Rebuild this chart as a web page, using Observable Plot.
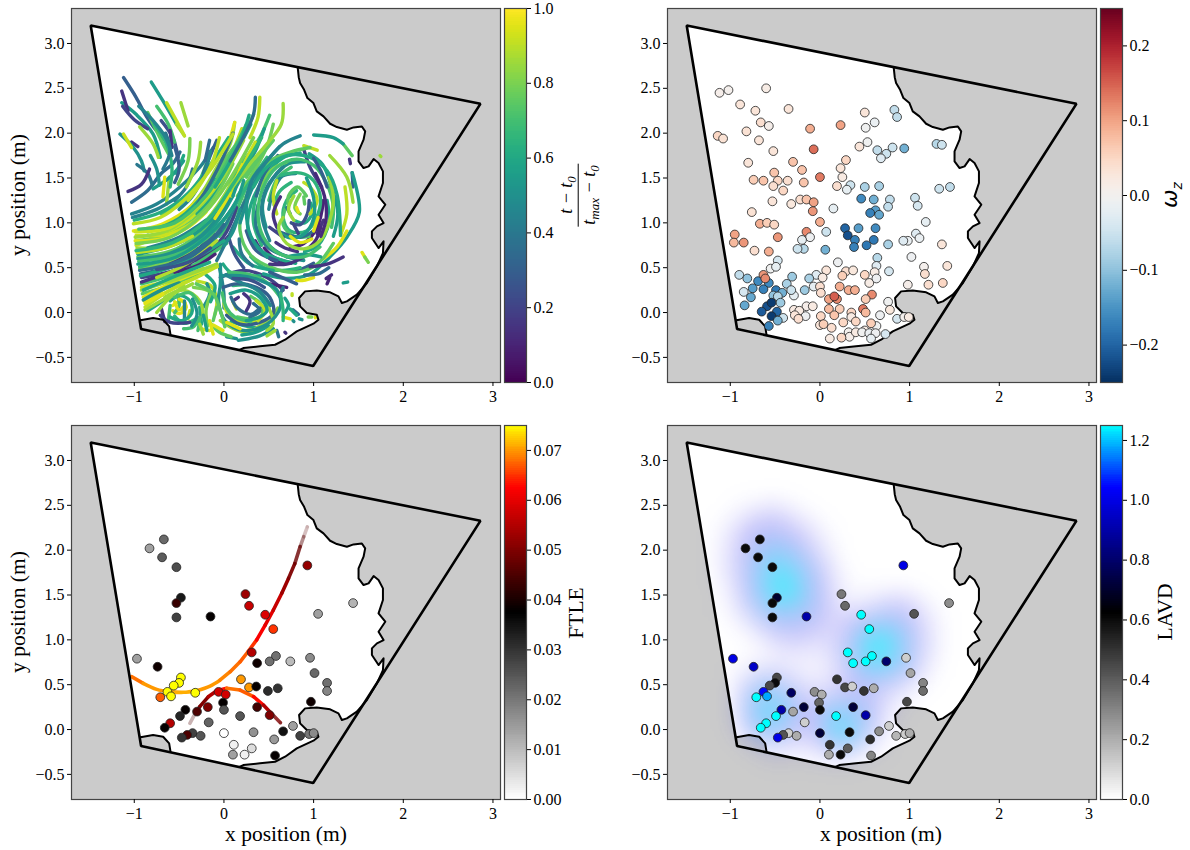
<!DOCTYPE html>
<html><head><meta charset="utf-8">
<style>
html,body{margin:0;padding:0;background:#fff;}
#root{position:relative;width:1190px;height:850px;overflow:hidden;font-family:"Liberation Serif",serif;color:#000;}
#root svg{position:absolute;}
.lab{position:absolute;white-space:nowrap;transform:translate(-50%,-50%);font-size:21.5px;line-height:1;}
.rot{transform:translate(-50%,-50%) rotate(-90deg);}
.frac{display:inline-flex;flex-direction:column;align-items:center;font-style:italic;font-size:18px;line-height:1.1;}
.frac .n{padding:0 2px 1px;}
.frac .d{border-top:1px solid #000;padding:1px 2px 0;}
.frac sub{font-size:13px;line-height:0;}
</style>
<script src="https://cdn.jsdelivr.net/npm/d3@7"></script>
<script src="https://cdn.jsdelivr.net/npm/@observablehq/plot@0.6"></script>
</head><body><div id="root"></div>
<script>
// Tank outline (metres)
const tankX = [-1.486, 2.86, 0.995, -0.924];
const tankY = [3.2, 2.327, -0.596, -0.183];
// Shoreline, main stretch: top edge of the tank round to the bottom edge
const shoreX = [0.823,0.834,0.849,0.894,0.931,0.998,1.035,1.110,1.184,1.259,1.371,1.445,1.538,1.575,1.557,1.501,1.501,1.557,1.613,1.669,1.724,1.773,1.773,1.724,1.799,1.724,1.780,1.706,1.650,1.650,1.724,1.780,1.773,1.706,1.594,1.482,1.371,1.315,1.277,1.184,1.035,0.905,0.838,0.849,0.924,1.035,1.054,0.998,0.812,0.682,0.570,0.402,0.216,0.179];
const shoreY = [2.727,2.624,2.559,2.484,2.391,2.336,2.243,2.187,2.105,2.068,2.038,2.064,2.075,2.020,1.927,1.797,1.685,1.611,1.630,1.711,1.667,1.574,1.444,1.295,1.202,1.091,0.998,0.961,0.905,0.831,0.719,0.793,0.663,0.515,0.329,0.199,0.124,0.106,0.180,0.225,0.247,0.236,0.162,0.069,-0.006,-0.024,-0.080,-0.124,-0.210,-0.303,-0.359,-0.377,-0.396,-0.414];
// Small corner shoreline
const cornerX = [-0.596,-0.611,-0.678,-0.790,-0.931];
const cornerY = [-0.247,-0.154,-0.080,-0.061,-0.087];

// Tracks: [normalised time, x0,y0, x1,y1, ...]
const tracks = [
[.3,-1.12,2.62,-.98,2.40,-.86,2.18,-.72,1.99,-.60,1.88],
[.15,-1.14,2.47,-1.07,2.25],
[.15,-.60,2.03,-.58,1.84],
[.25,-.70,2.14,-.57,1.95,-.51,1.73],
[.2,-1.13,2.3,-1.0,2.15,-.85,2.05],
[.45,-.95,2.3,-.8,2.15,-.65,1.95,-.58,1.75],
[.55,-.81,2.57,-.68,2.36,-.53,2.10],
[.85,-.53,2.10,-.44,1.97],
[.55,-1.14,2.34,-.98,2.21,-.79,1.99,-.71,1.73],
[.7,-.75,2.3,-.62,2.1,-.55,1.9],
[.4,-.65,2.0,-.6,1.8,-.68,1.6],
[.6,-.45,1.75,-.53,1.55],
[.4,-.97,1.65,-.85,1.55,-.8,1.42],
[.9,-.64,2.34,-.53,2.14,-.44,1.97],
[.85,-.48,2.34,-.40,2.08],
[.85,-.94,2.07,-.79,1.88,-.73,1.73],
[.75,-.85,2.23,-.70,1.92,-.62,1.77],
[.5,-1.16,1.99,-1.01,1.84,-.92,1.69,-.89,1.58],
[.92,-1.12,1.99,-1.03,1.84],
[.15,-1.03,1.90,-.96,1.85],
[.15,-1.07,1.35,-.92,1.43,-.83,1.60],
[.35,-1.03,1.23,-.85,1.36,-.70,1.55,-.57,1.66,-.49,1.79],
[.55,-.79,1.38,-.60,1.51,-.45,1.69],
[.95,-.66,1.51,-.68,1.29],
[.85,-.61,1.51,-.64,1.21],
[.8,-.38,1.94,-.40,1.69,-.51,1.43],
[.85,-.26,1.90,-.29,1.69,-.42,1.40],
[.3,-.08,1.92,-.16,1.73,-.23,1.55],
[.35,-.16,1.92,-.21,1.69],
[.45,-1.03,1.10,-.75,1.21,-.49,1.40,-.27,1.62,-.12,1.84],
[.45,-.15,1.8,-.22,1.55,-.35,1.3,-.5,1.15],
[.45,-1.02,1.06,-.75,1.15,-.5,1.30],
[.62,-1.0,1.03,-.7,1.12,-.4,1.33,-.15,1.65,.05,1.95],
[.35,.1,2.0,0,1.75,-.15,1.45,-.3,1.2],
[.2,-.92,.39,-.45,.51,-.01,.84,.14,1.17],
[.35,-.94,.47,-.49,.58,-.04,.91],
[.35,-.93,.43,-.55,.53,-.25,.7,0,.98],
[.5,-.96,.6,-.6,.66,-.25,.86,.02,1.2,.25,1.7],
[.55,-.96,.54,-.53,.62,-.08,.95,.14,1.25,.22,1.47],
[.65,-.98,.69,-.57,.78,-.16,1.06,.10,1.43,.42,1.95],
[.12,-.60,.54,-.31,.69,-.12,.88],
[.15,-.92,.34,-.60,.45,-.38,.54],
[.55,-.96,.65,-.45,.80,-.08,1.10,.22,1.62],
[.65,-.94,.51,-.42,.69,-.04,.99,.25,1.40,.48,1.73],
[.6,-.93,.41,-.6,.5,-.3,.62,0,.8],
[.3,.03,.80,.14,1.03,.25,1.29],
[.4,-.08,.58,.07,.88,.22,1.21,.40,1.55],
[.75,-.96,.62,-.53,.71,-.12,1.03,.18,1.47,.51,1.88],
[.7,-.92,.32,-.45,.47,.03,.77],
[.6,-.90,.25,-.53,.41,-.16,.56],
[.8,-.94,.49,-.6,.57,-.3,.72],
[.7,-.95,.57,-.55,.64,-.2,.82,.05,1.1],
[.8,-.98,.77,-.60,.84,-.23,1.10,.03,1.43,.33,1.95],
[.78,-.98,.80,-.53,.91,-.16,1.21,.10,1.66],
[.7,-.95,.93,-.55,1.0,-.2,1.3,.05,1.7,.25,2.1],
[.85,-.97,.72,-.6,.75,-.25,.97,0,1.3,.2,1.7],
[.85,-.99,.84,-.64,.91,-.31,1.14,-.01,1.51,.22,1.92],
[.9,-1.01,.99,-.71,1.06,-.45,1.25,-.16,1.58,.10,1.99],
[.95,-1.01,.91,-.68,.99,-.34,1.21,-.08,1.55,.12,2.12],
[.92,-.99,.90,-.60,.95,-.27,1.21,-.04,1.47],
[.92,-.98,.75,-.60,.90,-.31,1.10],
[.92,-.98,.86,-.6,.88,-.25,1.08,-.02,1.36],
[.95,-.99,.8,-.7,.82,-.4,.95,-.2,1.12],
[.9,-.97,.67,-.65,.72,-.35,.85],
[.85,-.92,.25,-.49,.39,-.08,.54],
[.88,-.75,.39,-.42,.54,-.08,.80],
[.75,-.91,.21,-.65,.29,-.4,.39,-.15,.5],
[.5,-.9,.14,-.7,.25,-.5,.33],
[.92,-.92,.28,-.65,.35,-.4,.46],
[.95,-.90,.17,-.60,.32,-.23,.47,-.04,.52],
[.9,-.88,.06,-.60,.25,-.31,.39,-.08,.51],
[.97,-.89,.13,-.7,.2,-.5,.3,-.25,.42],
[.85,-.88,.03,-.72,.12,-.55,.22,-.35,.32],
[.35,.35,2.40,.33,2.21,.20,1.92,.07,1.69],
[.9,.40,2.40,.38,2.18,.29,1.95],
[.85,.66,2.33,.64,2.10,.48,1.88,.29,1.66,.07,1.36],
[.7,.51,2.20,.40,1.95,.22,1.69,.03,1.43],
[.75,.33,2.21,.22,1.99,.03,1.73,-.08,1.51],
[.6,.28,2.2,.2,1.95,.05,1.65,-.1,1.4],
[.9,.2,2.05,.1,1.8,-.05,1.5],
[.55,.45,2.05,.35,1.8,.2,1.55,.1,1.3],
[.78,.55,2.1,.48,1.85,.35,1.6,.15,1.3],
[.92,.35,1.9,.22,1.65,.08,1.3],
[.5,.62,1.85,.45,1.65,.3,1.35,.18,1.0],
[.85,.12,2.12,.07,1.88,-.08,1.62,-.23,1.36,-.38,1.17],
[.9,-.05,1.95,-.12,1.7,-.25,1.45,-.4,1.25],
[.45,.85,1.97,.66,1.88,.48,1.69,.33,1.51,.25,1.29],
[.75,.55,1.92,.40,1.73,.25,1.51],
[.15,.63,1.29,.55,1.10,.59,.95],
[.1,1.11,1.25,1.04,.95,.89,.77,.74,.73],
[.15,.51,.54,.70,.54,.89,.62],
[.15,1.33,.62,1.15,.54,.96,.51],
[.2,.89,1.82,.96,1.62,1.09,1.40],
[.2,.51,.95,.66,.84],
[.15,1.04,.88,1.11,1.03],
[.3,.25,.91,.36,.69,.59,.58],
[.3,.51,.45,.81,.32],
[.1,.51,.32,.70,.28],
[.1,1.15,.32,1.18,.39],
[.12,1.02,1.55,1.12,1.3,1.14,1.05,1.08,.85],
[.25,.95,1.25,.93,1.1,.85,.98,.75,1.0],
[.25,.05,.85,.12,.65,.22,.5],
[.15,.35,.8,.45,.65,.6,.56,.75,.55],
[.35,.59,.91,.85,.84,1.00,.91],
[.45,.66,1.62,.48,1.40,.42,1.10,.51,.80],
[.5,.36,.95,.48,.77,.66,.64,.89,.58],
[.4,.17,.82,.2,.65,.32,.52],
[.3,1.0,.55,.85,.48,.72,.46],
[.35,.9,.42,1.05,.43,1.17,.5],
[.12,1.2,.42,1.14,.38],
[.55,1.43,1.56,1.51,1.12,1.37,.84,1.18,.62,.96,.43,.70,.38,.44,.43],
[.6,.10,.73,.29,.54,.55,.47],
[.6,1.30,.86,1.26,1.32,1.15,1.58,.96,1.73,.70,1.75,.48,1.62,.33,1.40],
[.6,.85,1.78,.65,1.72,.45,1.5,.3,1.2,.27,.92,.4,.7,.6,.6,.8,.55],
[.55,.95,1.77,1.1,1.65,1.2,1.4,1.27,1.1,1.22,.85],
[.5,.9,1.68,.72,1.66,.55,1.5,.43,1.2,.47,.95],
[.75,.96,1.84,.74,1.79,.51,1.69,.36,1.51,.22,1.21,.18,.91,.29,.65,.51,.51,.81,.45,1.04,.54,1.22,.77],
[.7,1.20,.95,1.22,1.17,1.15,1.43,1.00,1.64,.81,1.71,.59,1.62,.44,1.40,.38,1.10,.44,.84,.63,.65,.89,.62,1.07,.73],
[.65,.81,1.36,.70,1.25,.66,1.06,.74,.91,.92,.91,1.05,1.10,1.07,1.32,.96,1.51,.81,1.56,.63,1.53],
[.55,.92,1.5,1.0,1.28,1.0,1.05,.9,.88,.75,.83,.6,.9],
[.7,.75,1.62,.6,1.5,.5,1.25],
[.65,.75,1.45,.62,1.35,.56,1.2],
[.75,.72,1.2,.72,1.3,.82,1.4,.92,1.3],
[.65,.3,.62,.45,.5,.65,.47,.85,.5],
[.55,.7,.62,.9,.65,1.08,.62],
[.85,.66,1.06,.61,.95,.70,.77,.89,.71,1.07,.80,1.18,1.03,1.22,1.29,1.17,1.51],
[.85,1.18,1.75,1.37,1.51,1.44,1.23],
[.55,1.00,1.98,1.22,1.95,1.33,1.88],
[.75,1.33,1.88,1.43,1.75],
[.95,1.11,.60,1.26,.73,1.37,.91],
[.9,1.30,.86,1.37,1.10,1.35,1.40],
[.9,.89,1.86,1.04,1.81],
[.9,.59,1.47,.55,1.29,.59,1.10],
[.95,1.00,.91,1.05,1.06],
[.9,.96,1.10,1.04,1.25,.96,1.40,.89,1.45],
[.4,.70,1.17,.74,1.10],
[.8,.85,1.32,.79,1.17,.85,1.10],
[.75,.89,1.29,.90,1.21],
[.95,.81,1.17,.83,1.12],
[.95,.81,.36,.89,.36,1.00,.39],
[.55,1.33,.33,1.38,.34],
[.3,1.43,1.56,1.44,1.40],
[.15,1.40,1.71,1.41,1.66],
[.85,1.74,1.75,1.75,1.74],
[.95,1.54,.67,1.57,.62],
[.8,1.57,.62,1.61,.56],
[.2,-.71,-.03,-.60,-.11,-.38,-.11],
[.15,-.7,.05,-.66,-.1],
[.6,-.60,.13,-.49,.19,-.38,.13,-.36,-.01,-.47,-.09,-.60,-.05],
[.95,-.57,.08,-.47,.13,-.42,.06,-.49,-.01,-.57,.02],
[.85,-.66,.17,-.45,.25,-.27,.13,-.23,-.05],
[.7,-.55,.17,-.38,.22,-.28,.1],
[.8,-.34,.28,-.19,.25,-.12,.21],
[.75,-.31,.32,-.12,.21,-.04,.02,.01,-.16],
[.9,-.3,.35,-.15,.3,-.08,.15,-.1,-.02],
[.6,-.2,.42,-.1,.3,-.15,.12],
[.7,-.45,-.18,-.34,-.16,-.27,-.05,-.29,-.20],
[.65,-.55,-.04,-.45,-.12,-.33,-.08],
[.9,-.38,.02,-.4,-.07],
[.55,-.23,-.03,-.19,-.20],
[.95,-.16,-.09,-.12,-.24],
[.95,-.27,-.18,-.16,-.20],
[.75,-.15,-.12,-.05,-.22,.08,-.27],
[.3,-.01,.28,.14,.32,.36,.28,.51,.17,.55,-.01,.40,-.11,.18,-.13,.03,-.03],
[.25,.1,.38,.3,.36,.45,.28],
[.45,-.05,.5,-.02,.35,0,.2,0,.05],
[.5,-.04,.54,-.04,.32,-.06,.13,.01,-.09,.22,-.20,.48,-.13,.63,.06,.59,.25,.40,.36,.18,.41,-.04,.41],
[.2,-.04,.39,.22,.47,.48,.39,.66,.25],
[.7,.05,.45,.3,.42,.5,.32,.62,.18],
[.55,.07,.21,.25,.25,.40,.17,.48,.02,.40,-.05,.25,-.09],
[.75,.3,.18,.42,.08,.42,-.03,.3,-.07,.15,-.05],
[.7,-.02,.22,.03,.05,.12,-.05,.3,-.1],
[.15,.22,.21,.29,.13,.25,.02],
[.15,.16,.17,.10,.13],
[.9,.10,.12,.14,.04],
[.6,.08,-.1,.2,-.14,.35,-.17],
[.85,-.04,-.09,.07,-.16,.25,-.22,.48,-.09],
[.95,.03,-.11,.18,-.18],
[.95,.25,-.20,.44,-.16,.55,-.05],
[.85,.5,.05,.55,-.12,.48,-.2],
[.5,.03,-.27,.14,-.29],
[.5,.16,-.31,.40,-.26,.55,-.18],
[.85,.48,-.26,.57,-.20],
[.4,.59,-.20,.61,-.27],
[.15,.68,-.22,.69,-.23],
[.65,.63,.21,.66,.02,.66,-.09],
[.6,.74,.04,.81,-.03],
[.55,.68,0,.72,.08,.68,.16],
[.35,.77,.03,.83,-.02],
[.5,.84,-.07,.87,-.08],
[.95,.66,-.05,.74,-.07],
[.5,.77,-.09,.78,-.10],
[.8,.94,-.05,.98,-.05],
[.95,1.02,-.05,1.02,-.06],
[.9,.76,.21,.76,.19],
[.4,.66,.28,.63,.21],
[.95,-.60,.30,-.31,.41,-.08,.54],
[.9,-.79,.17,-.53,.36,-.23,.49],
[.95,-.88,.10,-.68,.21],
[.7,-.60,.08,-.62,-.09],
[.45,-.44,.13,-.44,-.09],
[.5,-.23,.06,-.16,.21,-.19,.32],
[.6,-.27,.06,-.25,-.13],
[.85,-.23,-.24,-.27,-.13],
[.6,-.01,.54,.10,.43,.40,.41],
[.95,-.01,-.20,-.12,-.14],
[.75,-.08,.06,-.12,-.09],
[.35,.33,.10,.40,.02,.29,-.05],
[.9,.36,.13,.46,.02,.38,-.09],
[.1,.45,.72,.55,.62,.72,.56],
[.12,.9,.68,1.02,.8,1.08,.95],
[.15,.58,.78,.68,.72,.82,.68],
[.4,.38,1.2,.36,.95,.5,.72,.7,.63],
[.55,.3,1.45,.25,1.15,.3,.85,.48,.62],
[.65,.48,1.55,.36,1.3,.33,1.0,.42,.75],
[.35,.6,1.75,.45,1.55,.36,1.3],
[.8,.7,1.68,.52,1.58,.42,1.38],
[.45,.8,1.55,.65,1.52,.55,1.35,.5,1.15],
[.6,1.15,1.25,1.17,1.0,1.05,.75,.9,.68],
[.3,1.0,1.72,1.08,1.58,1.15,1.4],
[.72,.68,1.15,.66,.98,.78,.85,.95,.85],
[.95,.74,.85,.85,.78,.98,.82],
[.6,.8,1.02,.9,1.0,.98,1.1,.97,1.22],
[.2,.78,.98,.83,.88],
[.85,.78,1.3,.72,1.15,.78,1.03],
[.6,-.3,1.1,-.05,1.4,.12,1.75,.3,2.1],
[.95,-.1,1.05,.05,1.3,.2,1.65],
[.7,-.05,.85,.1,1.05,.25,1.4,.45,1.8],
[.45,-.2,.72,0,.95,.15,1.25],
[.5,0,.75,.1,.9,.18,1.15],
[.15,-.3,.57,-.1,.7,.05,.85],
[.1,-.55,.45,-.3,.52,-.1,.65],
[.25,-.75,.48,-.4,.56,-.15,.72],
[.6,-.85,.9,-.5,1.05,-.2,1.35,-.02,1.65],
[.45,-.85,.72,-.5,.84,-.2,1.03],
[.55,-.8,.6,-.4,.72,-.1,.98,.1,1.3],
[.65,-.78,2.1,-.65,1.9,-.58,1.62,-.6,1.4],
[.3,-.55,1.85,-.5,1.6,-.55,1.45],
[.5,-.82,1.75,-.75,1.6,-.72,1.42],
[.4,-.35,1.6,-.42,1.4,-.55,1.25],
[.7,-.2,1.65,-.3,1.42,-.5,1.2,-.7,1.1],
[.6,-.85,.02,-.7,.12,-.6,.2],
[.85,-.75,0,-.62,.15,-.45,.3],
[.7,-.55,0,-.5,.08,-.52,.2],
[.95,-.55,.12,-.5,.03,-.43,.1,-.5,.15],
[.5,-.35,.15,-.3,-.02,-.36,-.15],
[.8,-.15,.2,-.2,.02,-.18,-.15],
[.45,.02,.42,.2,.33,.38,.25,.52,.08],
[.65,.1,.3,.28,.3,.42,.2,.5,.05],
[.9,0,.1,.05,-.02,.18,-.1,.35,-.1],
[.35,.08,.17,.15,.05,.3,-.02,.4,.05],
[.8,.4,-.2,.5,-.1,.6,.05],
[.55,.2,-.25,.35,-.22,.5,-.15]
];

// Vorticity samples: [x, y, omega_z]
const omegaPts = [
[-1.12,2.45,.01],[-1.02,2.48,.005],[-.60,2.50,.015],[-.89,2.32,.03],[-.72,2.25,.03],[-.35,2.27,.03],[-.66,2.12,.04],[-.57,2.08,.01],[-.11,2.05,.09],[.23,2.09,.10],[.50,2.23,.03],[.61,2.12,-.015],[.51,2.06,-.005],[.83,2.26,-.06],[.86,2.18,-.06],[-.82,2.02,.035],[-1.14,1.97,.05],[-1.08,1.94,.035],[-.68,1.92,.03],[-.52,1.80,.03],[-.07,1.82,.14],[.53,1.90,-.005],[.44,1.85,.03],[.64,1.81,-.06],[.81,1.84,-.05],[.94,1.83,-.12],[.74,1.77,-.05],[.68,1.72,-.03],[1.30,1.88,-.07],[1.36,1.87,-.05],[.29,1.70,.05],[-.30,1.68,.07],[-.80,1.67,.03],[-.20,1.59,.07],[-.51,1.56,.07],[.23,1.61,.03],[.25,1.51,.02],[0,1.51,.13],[-.47,1.47,.05],[-.36,1.47,.04],[-.74,1.48,.06],[-.63,1.47,.07],[-.18,1.45,.07],[-.52,1.41,.04],[-.41,1.36,.05],[.19,1.41,.04],[.34,1.42,-.05],[.30,1.37,-.02],[.50,1.40,-.08],[.66,1.41,-.08],[1.33,1.38,-.05],[1.45,1.40,-.06],[.46,1.27,-.16],[.60,1.26,-.12],[.78,1.26,-.06],[.76,1.18,-.06],[1.06,1.28,-.05],[1.09,1.19,-.04],[-.53,1.24,.03],[-.32,1.21,.025],[-.22,1.26,.04],[-.15,1.26,.07],[-.07,1.23,.10],[.62,1.14,-.14],[.56,1.11,-.17],[.66,1.09,-.13],[.15,1.16,-.02],[-.08,1.13,.11],[-.76,1.12,.035],[0,1.01,.09],[1.18,1.01,-.02],[-.67,.99,.09],[-.59,1.00,.06],[-.51,.98,.05],[.28,.94,-.2],[.43,.94,-.14],[.62,.94,-.16],[.07,.90,-.05],[-.15,.90,.12],[.31,.86,-.22],[1.07,.88,-.03],[1.11,.83,-.015],[-.11,.84,-.01],[-.20,.81,-.02],[.39,.81,-.17],[.60,.81,-.18],[-.95,.87,.10],[-.96,.78,.08],[-.85,.78,.11],[-.47,.84,.11],[.98,.80,-.015],[.93,.80,-.03],[1.36,.76,.03],[.38,.73,-.17],[.52,.75,-.18],[.76,.76,-.08],[-.73,.69,.04],[-.57,.68,.09],[-.18,.71,-.07],[-.25,.71,-.05],[.06,.70,-.12],[.64,.61,-.07],[1.02,.62,-.01],[-.47,.58,-.04],[.20,.56,-.01],[1.16,.51,.005],[1.42,.52,.03],[.63,.52,-.03],[-.55,.49,-.005],[-.49,.51,-.02],[.07,.47,.03],[.29,.46,.04],[.37,.47,.025],[.61,.45,.015],[.77,.46,-.04],[1.17,.43,.04],[-.90,.42,-.06],[-.81,.38,-.1],[-.69,.35,-.16],[-.57,.33,-.16],[-.63,.42,.11],[-.61,.38,.12],[-.04,.42,-.03],[-.31,.40,-.09],[-.12,.38,-.08],[.03,.39,.02],[.25,.41,.06],[.50,.42,.05],[.55,.33,.015],[.63,.38,-.01],[-.37,.32,-.08],[1.37,.33,.05],[.98,.31,.01],[1.21,.31,.04],[-.75,.27,-.14],[-.63,.26,-.17],[-.49,.25,-.18],[-.17,.25,-.09],[-.07,.29,-.02],[0,.29,.04],[.22,.29,.09],[.32,.25,.09],[.39,.25,.09],[-.85,.23,-.04],[-.29,.19,-.02],[-.32,.25,-.05],[-.42,.22,-.12],[.01,.22,.04],[.58,.20,.12],[-.52,.19,-.1],[-.47,.18,-.07],[-.77,.17,-.13],[.10,.15,.1],[.19,.15,.12],[.16,.18,.15],[.51,.15,.06],[.76,.12,-.005],[-.44,.11,-.09],[-.84,.08,-.13],[-.59,.07,-.22],[-.54,.11,-.24],[-.15,.07,.01],[-.08,.07,.02],[-.29,.03,.02],[-.23,.02,.02],[.10,.04,.08],[.22,.04,.06],[.78,.03,.025],[.48,.04,.13],[-.48,.01,-.2],[-.65,.01,-.21],[.51,0,.08],[.35,0,.05],[.16,-.03,.07],[-.41,-.06,-.05],[-.54,-.04,-.24],[-.28,-.03,.03],[.67,-.03,-.01],[-.16,-.04,-.01],[.01,-.04,.05],[-.47,-.09,-.12],[-.24,-.07,.04],[.35,-.05,.02],[.86,-.07,-.04],[.94,-.05,.005],[.99,-.05,.02],[.26,-.11,.05],[.40,-.10,.05],[.63,-.15,-.005],[.57,-.12,.06],[0,-.14,.03],[.04,-.13,.06],[-.57,-.15,-.17],[.13,-.17,.04],[.32,-.22,.005],[.33,-.27,.01],[.40,-.22,.02],[.50,-.20,.015],[.47,-.22,-.005],[.55,-.23,-.015],[.62,-.23,-.01],[.73,-.24,-.04],[.24,-.28,.05],[.11,-.29,.02],[.57,-.29,-.02]
];

// Sample positions and their FTLE and LAVD values
const sampleX = [-.67,-.83,-.69,-.53,-.48,-.53,-.53,-.15,.24,.28,.46,.55,.93,1.05,1.44,.31,-.97,-.74,.37,.51,.58,.74,.96,1.01,1.15,1.15,.97,-.48,-.50,-.56,-.63,-.59,-.71,-.32,.19,.28,.36,.49,.60,-.06,.02,-.01,0,-.18,-.30,-.43,-.49,-.60,-.66,-.17,.18,.37,.51,.66,.77,.85,.95,1.0,-.35,-.41,-.26,-.47,0,.33,.56,.11,.31,.23,.10,.57];
const sampleY = [2.12,2.02,1.92,1.81,1.47,1.41,1.25,1.26,1.51,1.38,1.28,1.12,1.83,1.29,1.41,.86,.79,.70,.74,.76,.82,.76,.80,.63,.52,.43,.31,.58,.52,.49,.42,.37,.36,.41,.56,.47,.48,.43,.46,.42,.39,.30,.22,.25,.20,.22,.15,.07,.02,.08,.15,.25,.16,-.02,.04,-.07,-.05,-.04,-.04,-.06,-.07,-.09,-.04,-.03,-.11,-.17,-.21,-.28,-.28,-.29];
const ftle = [.022,.014,.024,.026,.034,.043,.028,.038,.053,.057,.059,.065,.052,.014,.011,.055,.014,.039,.039,.021,.021,.01,.017,.022,.021,.018,.039,.075,.075,.075,.075,.075,.067,.075,.07,.07,.038,.031,.03,.058,.058,.038,.025,.05,.045,.038,.032,.055,.038,.023,.025,.044,.05,.035,.014,.028,.02,.017,.028,.045,.025,.03,0,.016,.015,.002,.005,.002,.014,.038];
const lavd = [.6,.6,.6,.6,.7,.6,.6,.9,.33,.37,1.25,1.25,1.0,.42,.28,1.25,1.0,.95,1.25,1.25,1.25,.8,.12,.22,.3,.36,.45,.45,.6,.45,1.05,1.18,1.25,.78,.5,.45,.12,.5,.2,.28,.2,.38,.6,.72,.22,.9,1.25,1.25,1.25,.12,1.25,.72,.9,.28,.12,.18,.12,.2,.12,.42,.2,1.0,.72,.6,.52,.5,.4,.6,.2,.3];

// FTLE ridges: position, value and fade along each one
const ridge1X = [-1.03,-.90,-.75,-.60,-.45,-.305,-.155,-.045,.07,.18,.27,.365,.46,.55,.645,.72,.79,.85,.89,.93];
const ridge1Y = [.59,.515,.448,.42,.415,.433,.485,.55,.645,.755,.87,1.0,1.165,1.33,1.52,1.685,1.85,2.04,2.15,2.26];
const ridge1F = [.068,.07,.07,.071,.071,.07,.07,.069,.068,.067,.065,.062,.06,.057,.053,.05,.048,.046,.046,.046];
const ridge1A = [1,1,1,1,1,1,1,1,1,1,1,1,1,1,1,.95,.8,.45,.25,.08];
const ridge2X = [-.38,-.32,-.27,-.175,-.08,.03,.18,.33,.44,.53,.63];
const ridge2Y = [.07,.18,.255,.365,.433,.46,.44,.367,.273,.18,.077];
const ridge2F = [.045,.045,.05,.055,.063,.068,.067,.063,.055,.05,.047];
const ridge2A = [.3,.8,1,1,1,1,1,1,1,.8,.2];

// LAVD glow, coarse samples (0 = none, 1 = brightest)
const glowXs = [-1.2,-1,-.8,-.6,-.4,-.2,0,.2,.4,.6,.8,1,1.2,1.4];
const glowYs = [2.6,2.4,2.2,2.0,1.8,1.6,1.4,1.2,1.0,.8,.6,.4,.2,0,-.2,-.4];
const glowRows = [
[0,0,0,0,0,0,0,0,0,0,0,0,0,0],
[0,0,.05,.12,.10,.02,0,0,0,0,0,0,0,0],
[0,.05,.18,.30,.28,.12,.02,0,0,0,0,0,0,0],
[0,.08,.28,.45,.45,.28,.08,0,0,0,0,0,0,0],
[0,.08,.30,.55,.62,.40,.15,.02,0,0,0,0,0,0],
[0,.05,.25,.55,.90,.48,.2,.04,0,0,0,0,0,0],
[0,.02,.15,.42,.55,.45,.2,.06,.02,.08,.14,.12,.02,0],
[0,0,.05,.2,.32,.3,.15,.08,.18,.34,.38,.26,.06,0],
[0,0,0,.06,.12,.12,.08,.12,.36,.92,.62,.32,.08,0],
[0,0,0,.01,.03,.03,.03,.10,.38,.75,.58,.30,.06,0],
[0,0,.06,.14,.10,.04,.03,.08,.24,.36,.30,.14,.02,0],
[0,0,.24,.48,.34,.12,.08,.14,.18,.14,.08,.02,0,0],
[0,0,.30,.72,.5,.18,.2,.48,.42,.18,.02,0,0,0],
[0,0,.16,.45,.34,.12,.24,.82,.46,.12,0,0,0,0],
[0,0,0,.08,.08,.05,.1,.22,.12,.02,0,0,0,0],
[0,0,0,0,0,0,0,0,0,0,0,0,0,0]
];

const xTicks = [-1,0,1,2,3];
const yTicks = [-0.5,0,0.5,1,1.5,2,2.5,3];
const xDomain = [-1.70,3.084];
const yDomain = [-0.78,3.39];
const tCbTicks = [0,.2,.4,.6,.8,1];
const wCbTicks = [-.2,-.1,0,.1,.2];
const fCbTicks = [0,.01,.02,.03,.04,.05,.06,.07];
const lCbTicks = [0,.2,.4,.6,.8,1,1.2];

const FONT = '"Liberation Serif","Times New Roman",serif';
const viridis = {type:"linear",scheme:"viridis",domain:[0,1]};
const rdbu = {type:"linear",scheme:"rdbu",reverse:true,domain:[-.25,.25]};
const ftleC = {type:"linear",domain:[0,.0375,.0625,.075],range:["#ffffff","#000000","#ff0000","#ffff00"]};
const lavdC = {type:"linear",domain:[0,.625,1.042,1.25],range:["#ffffff","#000000","#0000ff","#00ffff"]};

const tank = tankX.map((x,i)=>({x,y:tankY[i]}));
const shore = shoreX.map((x,i)=>({x,y:shoreY[i]}));
const corner = cornerX.map((x,i)=>({x,y:cornerY[i]}));
const water = [tank[0],...shore,...corner];
const sample = sampleX.map((x,i)=>({x,y:sampleY[i],f:ftle[i],l:lavd[i]}));

const root = document.getElementById("root");
function place(el,left,top){el.style.left=left+"px";el.style.top=top+"px";root.appendChild(el);}

function panel(left,top,color,marks){
  const under = marks.under||[], over = marks.over||[];
  const p = Plot.plot({
    width:502,height:410,marginLeft:71,marginRight:2,marginTop:8,marginBottom:28,
    style:{fontFamily:FONT,fontSize:"16px",background:"transparent",color:"#000",overflow:"visible"},
    x:{domain:xDomain},y:{domain:yDomain},color,
    opacity:{domain:[0,1],range:[0,1]},
    marks:[
      Plot.frame({fill:"#cbcbcb",stroke:null}),
      Plot.line(water,{x:"x",y:"y",fill:"white",stroke:null,curve:"linear-closed"}),
      ...under,
      Plot.line(shore,{x:"x",y:"y",stroke:"black",strokeWidth:2,strokeLinejoin:"round"}),
      Plot.line(corner,{x:"x",y:"y",stroke:"black",strokeWidth:2,strokeLinejoin:"round"}),
      Plot.line(tank,{x:"x",y:"y",stroke:"black",strokeWidth:2.6,curve:"linear-closed",strokeLinejoin:"miter"}),
      ...over,
      Plot.frame({stroke:"#444",strokeWidth:1.2}),
      Plot.axisX({ticks:xTicks,tickSize:4,tickPadding:4,label:null,tickFormat:d3.format("d"),strokeWidth:1}),
      Plot.axisY({ticks:yTicks,tickSize:4,tickPadding:3,label:null,tickFormat:d3.format(".1f"),strokeWidth:1})
    ]
  });
  place(p,left-71,top-8);
}

function colorbar(left,top,color,ticks,fmt){
  const [lo,hi] = [color.domain[0],color.domain[color.domain.length-1]];
  const steps = d3.range(200).map(i=>i/200);
  const p = Plot.plot({
    width:70,height:392,marginLeft:1,marginRight:47,marginTop:8,marginBottom:10,
    style:{fontFamily:FONT,fontSize:"16px",background:"transparent",color:"#000",overflow:"visible"},
    x:{domain:[0,1],axis:null},y:{domain:[lo,hi]},color,
    marks:[
      Plot.rect(steps,{x1:0,x2:1,y1:s=>lo+s*(hi-lo),y2:s=>lo+(s+.006)*(hi-lo),fill:s=>lo+(s+.0025)*(hi-lo),shapeRendering:"crispEdges"}),
      Plot.frame({stroke:"#444",strokeWidth:1.2}),
      Plot.axisY({anchor:"right",ticks,tickSize:4,tickPadding:3,label:null,tickFormat:fmt,strokeWidth:1})
    ]
  });
  place(p,left-1,top-8);
}

function label(html,x,y,rot,size){
  const d=document.createElement("div");
  d.className="lab"+(rot?" rot":"");
  d.innerHTML=html;d.style.left=x+"px";d.style.top=y+"px";
  if(size)d.style.fontSize=size+"px";
  root.appendChild(d);
}

// Panel 1: tracks, drawn in a mixed order so that no one period lies on top
const n = tracks.length;
const drawOrder = d3.range(n).sort((a,b)=>((a*97)%n)-((b*97)%n));
const trackRows = drawOrder.flatMap(id=>{
  const r = tracks[id], out=[];
  for(let i=1;i<r.length;i+=2)out.push({id,t:r[0],x:r[i],y:r[i+1]});
  return out;
});
panel(71,8,viridis,{under:[
  Plot.line(trackRows,{x:"x",y:"y",z:"id",stroke:"t",strokeWidth:3.4,curve:"catmull-rom",strokeLinecap:"round"})
]});
colorbar(504,8,viridis,tCbTicks,d3.format(".1f"));

// Panel 2: vorticity
panel(667,8,rdbu,{over:[
  Plot.dot(omegaPts,{x:d=>d[0],y:d=>d[1],fill:d=>d[2],r:4.4,stroke:"#222",strokeWidth:.8})
]});
colorbar(1100,8,rdbu,wCbTicks,d3.format(".1f"));

// Panel 3: FTLE
const ridges = [
  ...ridge1X.map((x,i)=>({id:1,x,y:ridge1Y[i],f:ridge1F[i],a:ridge1A[i]})),
  ...ridge2X.map((x,i)=>({id:2,x,y:ridge2Y[i],f:ridge2F[i],a:ridge2A[i]}))
];
panel(71,425,ftleC,{under:[
  Plot.line(ridges,{x:"x",y:"y",z:"id",stroke:"f",strokeOpacity:"a",strokeWidth:3.6,curve:"catmull-rom"})
],over:[
  Plot.dot(sample,{x:"x",y:"y",fill:"f",r:4.4,stroke:"#222",strokeWidth:.8})
]});
colorbar(504,425,ftleC,fCbTicks,d3.format(".2f"));

// Panel 4: LAVD
const glow = glowYs.flatMap((y,j)=>glowXs.map((x,i)=>({x,y,v:glowRows[j][i]})));
const rasterBase = {x:"x",y:"y",x1:-1.70,x2:3.084,y1:-0.78,y2:3.39,interpolate:"barycentric",pixelSize:2,blur:5};
panel(667,425,lavdC,{under:[
  Plot.raster(glow,{...rasterBase,fill:"#5a50f0",fillOpacity:d=>Math.min(1,d.v/.17)*.38}),
  Plot.raster(glow,{...rasterBase,fill:"#20ffff",fillOpacity:d=>Math.max(0,(d.v-.28)/.6)*.95})
],over:[
  Plot.dot(sample,{x:"x",y:"y",fill:"l",r:4.4,stroke:"#222",strokeWidth:.8})
]});
colorbar(1100,425,lavdC,lCbTicks,d3.format(".1f"));

// Labels
label("y position (m)",19,195,true);
label("y position (m)",19,612,true);
label("x position (m)",286,835,false);
label("x position (m)",881,835,false);
label('<span class="frac"><span class="n">t − t<sub>0</sub></span><span class="d">t<sub>max</sub> − t<sub>0</sub></span></span>',577,195,true);
label('<span style="font-family:\'DejaVu Sans\';display:inline-block;padding:2px 0 6px"><i>ω<sub style="font-size:14px;line-height:0">z</sub></i></span>',1172,195,true,22);
label("FTLE",577,613,true);
label("LAVD",1166,612,true);
</script></body></html>
